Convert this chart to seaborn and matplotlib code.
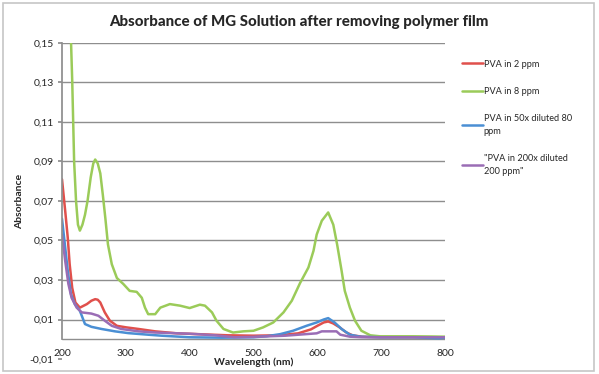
import numpy as np
import pandas as pd
import matplotlib
matplotlib.use("Agg")
import matplotlib.pyplot as plt
from matplotlib.patches import Rectangle
from matplotlib.ticker import FuncFormatter
import seaborn as sns

sns.set_theme(style="white")
plt.rcParams["font.family"] = ["Lato", "DejaVu Sans"]

# ---- data ----
labels = ["PVA in 2 ppm", "PVA in 8 ppm", "PVA in 50x diluted 80\nppm",
          "\"PVA in 200x diluted\n200 ppm\""]
colors = ["#E0504C", "#9BCB59", "#4A8FD4", "#9A6DB5"]

red_wl = [200, 205, 209, 212, 216, 221, 228, 239, 246, 252, 256, 260, 267, 275,
          286, 301, 320, 346, 380, 420, 460, 500, 540, 570, 590, 600, 610, 617,
          625, 635, 645, 655, 670, 700, 750, 800]
red_abs = [0.081, 0.065, 0.0515, 0.038, 0.026, 0.0186, 0.016, 0.0178, 0.0195,
           0.0203, 0.020, 0.0186, 0.0136, 0.0094, 0.0068, 0.006, 0.0052, 0.004,
           0.003, 0.0025, 0.002, 0.0018, 0.002, 0.003, 0.005, 0.0068, 0.0085,
           0.009, 0.008, 0.006, 0.0035, 0.002, 0.0013, 0.001, 0.001, 0.001]

green_wl = [200, 206, 211, 214, 216, 219, 222, 225, 228, 232, 236, 240, 245, 249,
            252, 256, 260, 264, 268, 272, 278, 286, 296, 306, 317, 325, 330, 335,
            346, 354, 369, 385, 400, 416, 424, 435, 442, 453, 468, 484, 500, 515,
            531, 547, 560, 573, 586, 594, 599, 607, 617, 625, 631, 638, 643, 651,
            659, 669, 683, 698, 720, 750, 780, 800]
green_abs = [0.40, 0.28, 0.19, 0.152, 0.131, 0.09, 0.070, 0.058, 0.055, 0.058,
             0.063, 0.070, 0.082, 0.089, 0.091, 0.089, 0.084, 0.073, 0.061, 0.048,
             0.038, 0.031, 0.028, 0.0245, 0.024, 0.021, 0.016, 0.0127, 0.0127,
             0.016, 0.0178, 0.017, 0.0158, 0.0175, 0.017, 0.0136, 0.0094, 0.0052,
             0.0034, 0.004, 0.0043, 0.006, 0.0085, 0.0136, 0.0195, 0.0285, 0.0363,
             0.0448, 0.053, 0.060, 0.0642, 0.058, 0.048, 0.0347, 0.0245, 0.016,
             0.0094, 0.0043, 0.002, 0.0015, 0.0015, 0.0015, 0.0014, 0.0013]

blue_wl = [200, 205, 209, 214, 220, 228, 236, 246, 262, 283, 304, 335, 356, 400,
           450, 500, 520, 542, 562, 583, 599, 610, 617, 627, 638, 651, 667, 700,
           750, 790, 800]
blue_abs = [0.061, 0.0465, 0.0347, 0.0229, 0.0178, 0.0144, 0.0077, 0.0063, 0.0052,
            0.004, 0.0031, 0.0023, 0.0018, 0.001, 0.0008, 0.001, 0.0015, 0.0026,
            0.0043, 0.0068, 0.0085, 0.010, 0.0107, 0.0085, 0.0052, 0.0023, 0.0013,
            0.001, 0.001, 0.0005, 0.0008]

purple_wl = [200, 205, 210, 215, 223, 231, 246, 257, 267, 278, 293, 320, 346, 400,
             440, 470, 500, 550, 599, 607, 620, 630, 636, 651, 670, 700, 750, 800]
purple_abs = [0.053, 0.0397, 0.028, 0.021, 0.016, 0.0136, 0.013, 0.0119, 0.0094,
              0.0068, 0.0052, 0.004, 0.0034, 0.0028, 0.002, 0.001, 0.0012, 0.0018,
              0.003, 0.004, 0.004, 0.004, 0.0023, 0.0013, 0.001, 0.001, 0.001, 0.001]

y_ticks = [-0.01, 0.01, 0.03, 0.05, 0.07, 0.09, 0.11, 0.13, 0.15]
x_ticks = [200, 300, 400, 500, 600, 700, 800]

frames = []
for lab, wl, ab in zip(labels, [red_wl, green_wl, blue_wl, purple_wl],
                       [red_abs, green_abs, blue_abs, purple_abs]):
    frames.append(pd.DataFrame({"Wavelength": wl, "Absorbance": ab, "Series": lab}))
df = pd.concat(frames, ignore_index=True)

fig = plt.figure(figsize=(5.99, 3.74), dpi=100)
fig.patches.append(Rectangle((3 / 599, 3 / 374), 591 / 599, 368 / 374,
                             transform=fig.transFigure, fill=False,
                             edgecolor="#c6c6c6", lw=1.2))
ax = fig.add_axes([62 / 599, 1 - 359 / 374, 383 / 599, 316 / 374])

sns.lineplot(data=df, x="Wavelength", y="Absorbance", hue="Series",
             palette=dict(zip(labels, colors)), sort=False, estimator=None,
             lw=1.8, ax=ax, legend=True)

ax.set_xlim(200, 800)
ax.set_ylim(-0.01, 0.15)
ax.set_yticks(y_ticks)
ax.set_xticks(x_ticks)
ax.yaxis.set_major_formatter(FuncFormatter(lambda v, p: f"{v:.2f}".replace(".", ",")))
for y in y_ticks[1:]:
    ax.axhline(y, color="#8e8e8e", lw=1, zorder=0)
ax.axhline(0, color="#8e8e8e", lw=1, zorder=0)

for s in ["top", "right", "bottom"]:
    ax.spines[s].set_visible(False)
ax.spines["left"].set_color("#8e8e8e")
ax.spines["left"].set_bounds(0, 0.15)
ax.tick_params(axis="y", length=3, color="#8e8e8e", left=True, labelsize=7.5, pad=3)
ax.tick_params(axis="x", length=0, labelsize=7.5, pad=-7)

ax.set_xlabel("Wavelength (nm)", fontsize=7.5, fontweight="bold", labelpad=-1)
ax.set_ylabel("Absorbance", fontsize=7.5, fontweight="bold", labelpad=4)

fig.suptitle("Absorbance of MG Solution after removing polymer film",
             x=299 / 599, y=1 - 22 / 374, va="center", fontsize=10.8, fontweight="black")

handles, labs = ax.get_legend_handles_labels()
ax.get_legend().remove()
leg = fig.legend(handles, labs, loc="upper left", bbox_to_anchor=(458 / 599, 1 - 56 / 374),
                 frameon=False, fontsize=6.6, handlelength=2.3, handletextpad=0.1,
                 labelspacing=2.0, borderaxespad=0)
for t in leg.get_texts():
    t.set_linespacing(1.5)

fig.savefig("out.png", dpi=100)
